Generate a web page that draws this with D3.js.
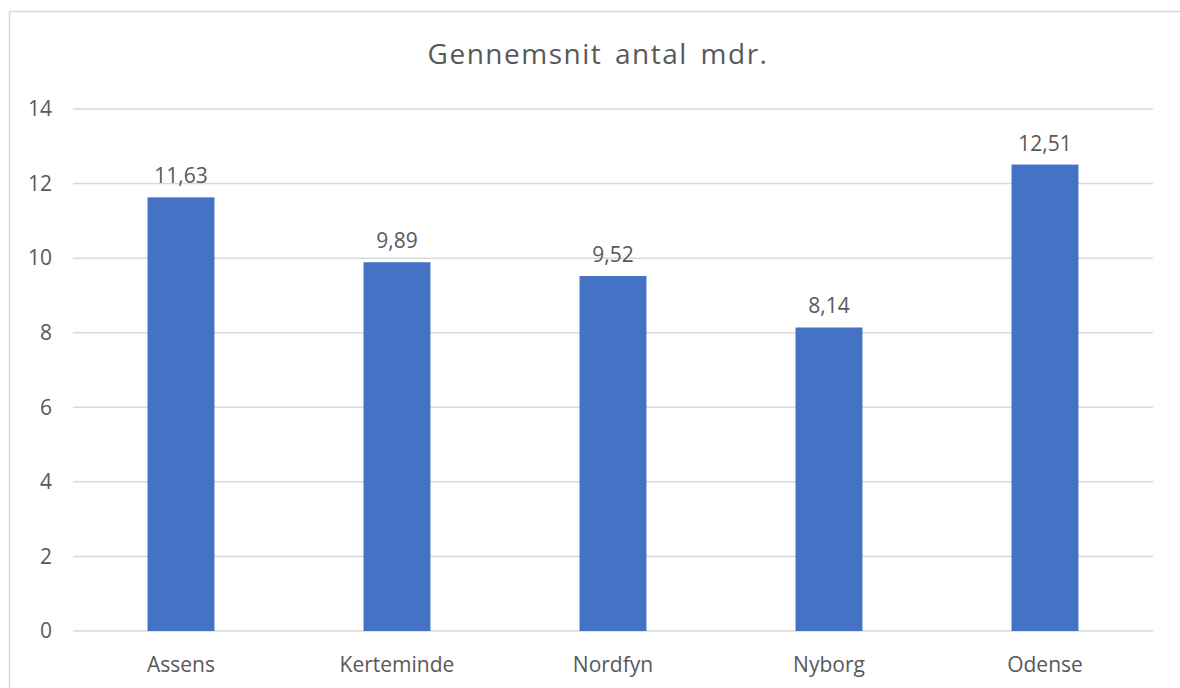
<!DOCTYPE html>
<html>
<head>
<meta charset="utf-8">
<script src="https://cdn.jsdelivr.net/npm/d3@7"></script>
<style>
  body { margin: 0; background: #fff; }
  text { font-family: "Open Sans", "Noto Sans", sans-serif; fill: #595959; }
</style>
</head>
<body>
<script>
// Chart data
var categories = ["Assens", "Kerteminde", "Nordfyn", "Nyborg", "Odense"];
var values = [11.63, 9.89, 9.52, 8.14, 12.51];
var yTicks = [0, 2, 4, 6, 8, 10, 12, 14];
var chartTitle = "Gennemsnit antal mdr.";

var svgWidth = 1180;
var svgHeight = 688;

var margin = { top: 109, right: 27, bottom: 57, left: 73 };
var width = svgWidth - margin.left - margin.right;
var height = svgHeight - margin.top - margin.bottom;

var da = d3.formatLocale({ decimal: ",", thousands: ".", grouping: [3], currency: ["", " kr."] });
var fmt = da.format(".2f");

var svg = d3.select("body")
            .append("svg")
            .attr("width", svgWidth)
            .attr("height", svgHeight);

// chart frame
svg.append("rect")
   .attr("x", 9.5).attr("y", 11.5)
   .attr("width", 1200).attr("height", 700)
   .attr("fill", "none")
   .attr("stroke", "#d9d9d9")
   .attr("stroke-width", 1.5);

svg.append("text")
   .attr("x", 598)
   .attr("y", 64)
   .attr("text-anchor", "middle")
   .style("font-size", "28px")
   .style("letter-spacing", "1.5px")
   .style("word-spacing", "4px")
   .text(chartTitle);

var chartGroup = svg.append("g")
                    .attr("transform", `translate(${margin.left}, ${margin.top})`);

var xScale = d3.scaleBand().domain(categories).range([0, width])
               .paddingInner(0.69).paddingOuter(0.345);
var yScale = d3.scaleLinear().domain([0, 14]).range([height, 0]);

// gridlines
chartGroup.selectAll(".grid")
    .data(yTicks)
    .enter().append("line")
    .attr("x1", 0).attr("x2", width)
    .attr("y1", d => yScale(d)).attr("y2", d => yScale(d))
    .attr("stroke", "#d9d9d9")
    .attr("stroke-width", 1.5);

// y axis labels
var leftAxis = d3.axisLeft(yScale).tickValues(yTicks).tickSize(0).tickPadding(21);
var yAxisG = chartGroup.append("g").call(leftAxis);
yAxisG.select(".domain").remove();
yAxisG.selectAll("text").style("font-size", "21px").attr("fill", "#595959");

// x axis labels
var bottomAxis = d3.axisBottom(xScale).tickSize(0).tickPadding(26);
var xAxisG = chartGroup.append("g").attr("transform", `translate(0, ${height})`).call(bottomAxis);
xAxisG.select(".domain").remove();
xAxisG.selectAll("text").style("font-size", "21px").attr("fill", "#595959");

// bars
chartGroup.selectAll(".bar")
    .data(values)
    .enter().append("rect")
    .attr("x", (d, i) => xScale(categories[i]))
    .attr("y", d => yScale(d))
    .attr("width", xScale.bandwidth())
    .attr("height", d => height - yScale(d))
    .attr("fill", "#4472c4");

// data labels
chartGroup.selectAll(".lbl")
    .data(values)
    .enter().append("text")
    .attr("x", (d, i) => xScale(categories[i]) + xScale.bandwidth() / 2)
    .attr("y", d => yScale(d) - 14)
    .attr("text-anchor", "middle")
    .style("font-size", "21px")
    .text(d => fmt(d));
</script>
</body>
</html>
